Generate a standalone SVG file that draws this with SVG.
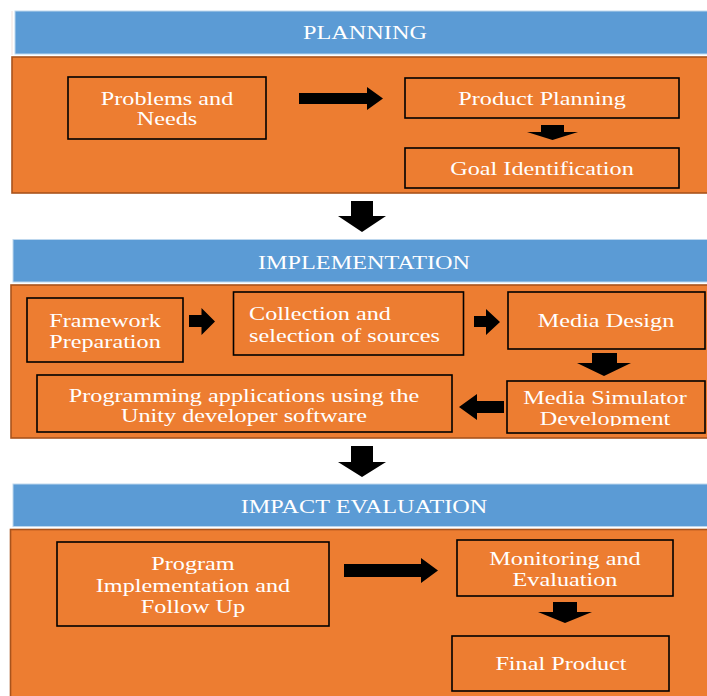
<svg xmlns="http://www.w3.org/2000/svg" width="707" height="696" viewBox="0 0 707 696">
<defs>
<style>
.bar{fill:#5B9BD5;stroke:#BDD7EE;stroke-width:1}
.panel{fill:#ED7D31;stroke:#A9531C;stroke-width:1.6}
.box{fill:#ED7D31;stroke:#000;stroke-width:1.6}
.t{fill:#fff;font-family:"Liberation Serif","Times New Roman",serif;font-size:18.5px;text-anchor:middle}
.s{text-anchor:start}
.arr{fill:#000}
</style>
<clipPath id="clipDev"><rect x="507" y="381" width="200" height="45"/></clipPath>
</defs>
<rect width="707" height="696" fill="#fff"/>
<line x1="12" y1="11" x2="12" y2="55" stroke="#f3e2dc" stroke-width="1"/>

<g id="planning">
<rect class="bar" x="15" y="11" width="700" height="43"/>
<text class="t" transform="translate(365,39) scale(1.31,1)">PLANNING</text>
<rect class="panel" x="12" y="57" width="700" height="136"/>
</g>
<g id="problems">
<rect class="box" x="68" y="77" width="198" height="62"/>
<text class="t" transform="translate(167,105) scale(1.31,1)">Problems and</text>
<text class="t" transform="translate(167,125) scale(1.31,1)">Needs</text>
</g>
<g id="product-planning">
<rect class="box" x="405" y="78" width="274" height="40"/>
<text class="t" transform="translate(542,105) scale(1.31,1)">Product Planning</text>
</g>
<g id="goal">
<rect class="box" x="405" y="148" width="274" height="40"/>
<text class="t" transform="translate(542,175) scale(1.31,1)">Goal Identification</text>
</g>

<g id="implementation">
<rect class="bar" x="13" y="239.5" width="700" height="42.5"/>
<text class="t" transform="translate(364,269) scale(1.31,1)">IMPLEMENTATION</text>
<rect class="panel" x="11" y="285" width="700" height="153"/>
</g>
<g id="framework">
<rect class="box" x="27" y="298" width="156" height="64"/>
<text class="t" transform="translate(105,327) scale(1.31,1)">Framework</text>
<text class="t" transform="translate(105,348) scale(1.31,1)">Preparation</text>
</g>
<g id="collection">
<rect class="box" x="233.5" y="292" width="230" height="63"/>
<text class="t s" transform="translate(249,320) scale(1.31,1)">Collection and</text>
<text class="t s" transform="translate(249,341.5) scale(1.31,1)">selection of sources</text>
</g>
<g id="media-design">
<rect class="box" x="508" y="292" width="197" height="57"/>
<text class="t" transform="translate(606,327) scale(1.31,1)">Media Design</text>
</g>
<g id="media-simulator">
<rect class="box" x="507" y="381" width="198" height="52"/>
<g clip-path="url(#clipDev)">
<text class="t" transform="translate(605,404) scale(1.31,1)">Media Simulator</text>
<text class="t" transform="translate(605,425) scale(1.31,1)">Development</text>
</g>
</g>
<g id="programming">
<rect class="box" x="37" y="375" width="415" height="57"/>
<text class="t" transform="translate(244,401.5) scale(1.31,1)">Programming applications using the</text>
<text class="t" transform="translate(244,422) scale(1.31,1)">Unity developer software</text>
</g>

<g id="impact-evaluation">
<rect class="bar" x="13" y="484" width="700" height="42.5"/>
<text class="t" transform="translate(364,513) scale(1.31,1)">IMPACT EVALUATION</text>
<rect class="panel" x="10.5" y="529.5" width="700" height="180"/>
</g>
<g id="program-implementation">
<rect class="box" x="57" y="542" width="272" height="84"/>
<text class="t" transform="translate(193,570) scale(1.31,1)">Program</text>
<text class="t" transform="translate(193,591.5) scale(1.31,1)">Implementation and</text>
<text class="t" transform="translate(193,612.5) scale(1.31,1)">Follow Up</text>
</g>
<g id="monitoring">
<rect class="box" x="457" y="540" width="216" height="56"/>
<text class="t" transform="translate(565,564.5) scale(1.31,1)">Monitoring and</text>
<text class="t" transform="translate(565,585.5) scale(1.31,1)">Evaluation</text>
</g>
<g id="final-product">
<rect class="box" x="452" y="636" width="217" height="55"/>
<text class="t" transform="translate(561,670) scale(1.31,1)">Final Product</text>
</g>

<g id="connectors">
<polygon class="arr" points="299,93 367,93 367,87 383,98.5 367,110 367,104 299,104"/>
<polygon class="arr" points="541,125 564,125 564,132 578,132 552.5,140 527,132 541,132"/>
<polygon class="arr" points="351,201 373,201 373,216 386,216 362,232 338,216 351,216"/>
<polygon class="arr" points="189,315 201.5,315 201.5,308 215,321.5 201.5,335 201.5,327 189,327"/>
<polygon class="arr" points="474,316 486,316 486,309 500,322 486,335 486,327 474,327"/>
<polygon class="arr" points="592,353 617,353 617,363 631,363 604,376 577,363 592,363"/>
<polygon class="arr" points="504,401 477,401 477,394 459,407 477,420 477,413 504,413"/>
<polygon class="arr" points="351,446 373,446 373,462 386,462 362,477 338,462 351,462"/>
<polygon class="arr" points="344,564 421,564 421,558 438,570.5 421,583 421,577 344,577"/>
<polygon class="arr" points="553,602 577,602 577,612 592,612 565,623 538,612 553,612"/>
</g>
</svg>
